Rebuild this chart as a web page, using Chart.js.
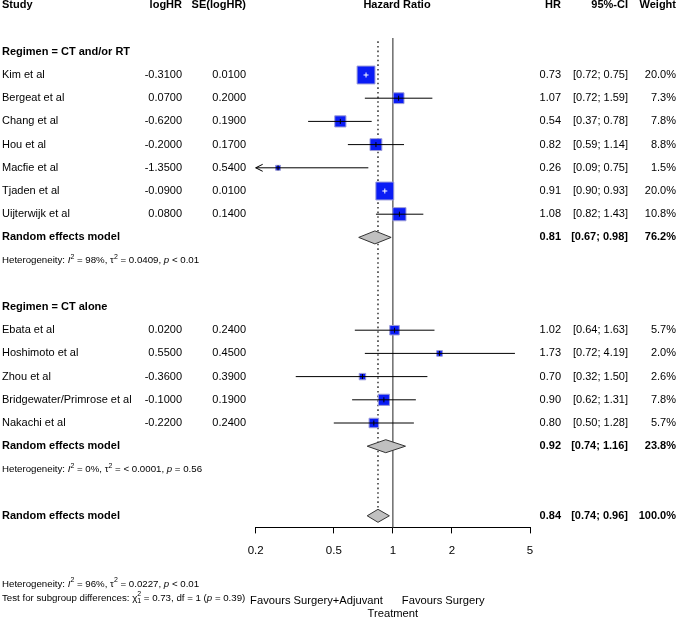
<!DOCTYPE html>
<html><head><meta charset="utf-8">
<script src="https://cdn.jsdelivr.net/npm/chart.js@4"></script>
<style>html,body{margin:0;padding:0;background:#fff}canvas{display:block}</style>
</head><body>
<canvas id="c" width="677" height="619"></canvas>
<script>
// ---- data ----
const studies1 = ['Kim et al','Bergeat et al','Chang et al','Hou et al','Macfie et al','Tjaden et al','Uijterwijk et al'];
const logHR1 = [-0.31, 0.07, -0.62, -0.20, -1.35, -0.09, 0.08];
const se1 = [0.01, 0.20, 0.19, 0.17, 0.54, 0.01, 0.14];
const hr1 = [0.73, 1.07, 0.54, 0.82, 0.26, 0.91, 1.08];
const lo1 = [0.72, 0.72, 0.37, 0.59, 0.09, 0.90, 0.82];
const hi1 = [0.75, 1.59, 0.78, 1.14, 0.75, 0.93, 1.43];
const w1 = [20.0, 7.3, 7.8, 8.8, 1.5, 20.0, 10.8];

const studies2 = ['Ebata et al','Hoshimoto et al','Zhou et al','Bridgewater/Primrose et al','Nakachi et al'];
const logHR2 = [0.02, 0.55, -0.36, -0.10, -0.22];
const se2 = [0.24, 0.45, 0.39, 0.19, 0.24];
const hr2 = [1.02, 1.73, 0.70, 0.90, 0.80];
const lo2 = [0.64, 0.72, 0.32, 0.62, 0.50];
const hi2 = [1.63, 4.19, 1.50, 1.31, 1.28];
const w2 = [5.7, 2.0, 2.6, 7.8, 5.7];

const groupLabels = ['Regimen = CT and/or RT', 'Regimen = CT alone'];
const reModel1 = {hr: 0.81, lo: 0.67, hi: 0.98, w: 76.2};
const reModel2 = {hr: 0.92, lo: 0.74, hi: 1.16, w: 23.8};
const reOverall = {hr: 0.84, lo: 0.74, hi: 0.96, w: 100.0};
const het1 = ['98%', '0.0409', '< 0.01'];
const het2 = ['0%', '< 0.0001', '= 0.56'];
const hetAll = ['96%', '0.0227', '< 0.01'];
const subgroupTest = ['0.73', '1', '0.39'];
const tickVals = [0.2, 0.5, 1, 2, 5];
const headers = ['Study', 'logHR', 'SE(logHR)', 'Hazard Ratio', 'HR', '95%-CI', 'Weight'];
const favours = ['Favours Surgery+Adjuvant', 'Favours Surgery', 'Treatment'];

// row indices
const rows1 = [0,1,2,3,4,5,6];
const rows2 = [11,12,13,14,15];
const ROW = {header:-3, g1:-1, re1:7, het1:8, g2:10, re2:16, het2:17, overall:19};

const FAM = '"Liberation Sans", Arial, Helvetica, sans-serif';
const allStudies = [];
studies1.forEach((s,i)=>allStudies.push({name:s, lhr:logHR1[i], se:se1[i], hr:hr1[i], lo:lo1[i], hi:hi1[i], w:w1[i], row:rows1[i]}));
studies2.forEach((s,i)=>allStudies.push({name:s, lhr:logHR2[i], se:se2[i], hr:hr2[i], lo:lo2[i], hi:hi2[i], w:w2[i], row:rows2[i]}));

const side = w => 4.0*Math.sqrt(w);

function rich(ctx, x, y, segs, size, align) {
  let total = 0;
  const meas = segs.map(s => {
    const sz = (s.sup||s.sub) ? size*0.72 : size;
    ctx.font = `${s.it?'italic ':''}${s.b?'bold ':''}${sz}px ${FAM}`;
    return ctx.measureText(s.t).width;
  });
  segs.forEach((s,i)=>{ if(!s.stack) total += meas[i]; });
  let cx = align==='right' ? x-total : align==='center' ? x-total/2 : x;
  ctx.textAlign = 'left';
  segs.forEach((s,i)=>{
    const sz = (s.sup||s.sub) ? size*0.72 : size;
    ctx.font = `${s.it?'italic ':''}${s.b?'bold ':''}${sz}px ${FAM}`;
    const dy = s.sup ? -size*0.38 : s.sub ? size*0.3 : 0;
    ctx.fillText(s.t, cx, y+dy);
    if(!s.stack) cx += meas[i];
  });
}
function hetSegs(h){
  return [{t:'Heterogeneity: '},{t:'I',it:true},{t:'2',sup:true},{t:' = '+h[0]+', '},{t:'\u03C4'},{t:'2',sup:true},{t:' = '+h[1]+', '},{t:'p',it:true},{t:' '+h[2]}];
}
const fmtCI = (lo,hi)=>'['+lo.toFixed(2)+'; '+hi.toFixed(2)+']';

const forestPlugin = {
  id:'forest',
  beforeDatasetsDraw(chart){
    const {ctx, scales:{x,y}, chartArea} = chart;
    ctx.save();
    // dotted line at overall estimate
    ctx.strokeStyle = '#000'; ctx.lineWidth = 1.2; ctx.setLineDash([1.6,3]);
    const xd = x.getPixelForValue(reOverall.hr);
    ctx.beginPath(); ctx.moveTo(xd, y.getPixelForValue(-1.45)); ctx.lineTo(xd, y.getPixelForValue(ROW.overall)-6); ctx.stroke();
    ctx.setLineDash([]);
    // solid line at 1
    ctx.strokeStyle = '#555'; ctx.lineWidth = 1.3;
    const x1 = x.getPixelForValue(1);
    ctx.beginPath(); ctx.moveTo(x1, y.getPixelForValue(-1.6)); ctx.lineTo(x1, chartArea.bottom); ctx.stroke();
    ctx.restore();
  },
  afterDatasetsDraw(chart){
    const {ctx, scales:{x,y}} = chart;
    ctx.save();
    allStudies.forEach(s=>{
      const py = y.getPixelForValue(s.row);
      const pc = x.getPixelForValue(s.hr);
      const xa = x.getPixelForValue(Math.max(s.lo, x.min));
      const xb = x.getPixelForValue(Math.min(s.hi, x.max));
      const half = side(s.w)/2;
      const inside = (pc-xa) <= half && (xb-pc) <= half;
      ctx.lineWidth = 1;
      ctx.strokeStyle = inside ? '#fff' : '#000';
      ctx.beginPath();
      if (inside) { ctx.moveTo(Math.min(xa,pc-2.5), py); ctx.lineTo(Math.max(xb,pc+2.5), py); }
      else { ctx.moveTo(xa, py); ctx.lineTo(xb, py); }
      ctx.moveTo(pc, py-2.5); ctx.lineTo(pc, py+2.5);
      ctx.stroke();
      if (s.lo < x.min) { // arrow
        ctx.strokeStyle = '#000';
        ctx.beginPath(); ctx.moveTo(xa+7, py-3.5); ctx.lineTo(xa, py); ctx.lineTo(xa+7, py+3.5); ctx.stroke();
      }
    });
    // diamonds
    [[reModel1,ROW.re1],[reModel2,ROW.re2],[reOverall,ROW.overall]].forEach(([m,r])=>{
      const py = y.getPixelForValue(r);
      ctx.beginPath();
      ctx.moveTo(x.getPixelForValue(m.lo), py);
      ctx.lineTo(x.getPixelForValue(m.hr), py-6.5);
      ctx.lineTo(x.getPixelForValue(m.hi), py);
      ctx.lineTo(x.getPixelForValue(m.hr), py+6.5);
      ctx.closePath();
      ctx.fillStyle = '#c0c0c0'; ctx.fill();
      ctx.strokeStyle = '#333'; ctx.lineWidth = 1; ctx.stroke();
    });
    ctx.restore();
  },
  afterDraw(chart){
    const {ctx, scales:{x,y}} = chart;
    ctx.save();
    ctx.fillStyle = '#000';
    ctx.textBaseline = 'middle';
    const py = r => y.getPixelForValue(r);
    const txtP = (t, px, pyy, align, bold, size) => {
      ctx.font = `${bold?'bold ':''}${size||11}px ${FAM}`;
      ctx.textAlign = align; ctx.fillText(t, px, pyy);
    };
    const txt = (t, px, r, align, bold, size) => txtP(t, px, py(r), align, bold, size);
    const COL = {study:2, lhr:182, se:246, hrc:397, hr:561, ci:628, w:676};
    // headers
    txt(headers[0], COL.study, ROW.header, 'left', true);
    txt(headers[1], COL.lhr, ROW.header, 'right', true);
    txt(headers[2], COL.se, ROW.header, 'right', true);
    txt(headers[3], COL.hrc, ROW.header, 'center', true);
    txt(headers[4], COL.hr, ROW.header, 'right', true);
    txt(headers[5], COL.ci, ROW.header, 'right', true);
    txt(headers[6], COL.w, ROW.header, 'right', true);
    // groups
    txt(groupLabels[0], COL.study, ROW.g1, 'left', true);
    txt(groupLabels[1], COL.study, ROW.g2, 'left', true);
    allStudies.forEach(s=>{
      txt(s.name, COL.study, s.row, 'left');
      txt(s.lhr.toFixed(4), COL.lhr, s.row, 'right');
      txt(s.se.toFixed(4), COL.se, s.row, 'right');
      txt(s.hr.toFixed(2), COL.hr, s.row, 'right');
      txt(fmtCI(s.lo,s.hi), COL.ci, s.row, 'right');
      txt(s.w.toFixed(1)+'%', COL.w, s.row, 'right');
    });
    [[reModel1,ROW.re1],[reModel2,ROW.re2],[reOverall,ROW.overall]].forEach(([m,r])=>{
      txt('Random effects model', COL.study, r, 'left', true);
      txt(m.hr.toFixed(2), COL.hr, r, 'right', true);
      txt(fmtCI(m.lo,m.hi), COL.ci, r, 'right', true);
      txt(m.w.toFixed(1)+'%', COL.w, r, 'right', true);
    });
    const HS = 9.7;
    rich(ctx, COL.study, py(ROW.het1), hetSegs(het1), HS);
    rich(ctx, COL.study, py(ROW.het2), hetSegs(het2), HS);
    rich(ctx, COL.study, 584, hetSegs(hetAll), HS);
    rich(ctx, COL.study, 598, [{t:'Test for subgroup differences: '},{t:'\u03C7'},{t:'2',sup:true,stack:true},{t:'1',sub:true},{t:' = '+subgroupTest[0]+', df = '+subgroupTest[1]+' ('},{t:'p',it:true},{t:' = '+subgroupTest[2]+')'}], HS);
    // favours
    const x1 = x.getPixelForValue(1);
    txtP(favours[0], x1-10, 601, 'right', false, 11.2);
    txtP(favours[1], x1+9, 601, 'left', false, 11.2);
    txtP(favours[2], x1, 614, 'center', false, 11.2);
    ctx.restore();
  }
};

new Chart(document.getElementById('c'), {
  type: 'scatter',
  data: {
    datasets: [{
      data: allStudies.map(s=>({x:s.hr, y:s.row})),
      pointStyle: 'rect',
      pointRadius: allStudies.map(s=>side(s.w)/Math.SQRT2),
      pointHoverRadius: allStudies.map(s=>side(s.w)/Math.SQRT2),
      backgroundColor: '#0a1cf5',
      borderColor: '#9c9cd8',
      borderWidth: 1
    }]
  },
  options: {
    responsive: false,
    animation: false,
    devicePixelRatio: 1,
    layout: {autoPadding: false, padding: {left: 255.7, right: 147, top: 5.4, bottom: 0}},
    plugins: {legend: {display:false}, tooltip: {enabled:false}},
    scales: {
      x: {
        type: 'logarithmic', min: 0.2, max: 5,
        afterBuildTicks: s => { s.ticks = tickVals.map(v=>({value:v})); },
        afterFit: s => { s.height = 619 - 527.4; },
        ticks: {callback: v => String(v), color:'#000', font:{size:11.5, family:FAM}, padding: 11, autoSkip:false, maxRotation:0},
        grid: {drawOnChartArea:false, drawTicks:true, tickLength:6, color:'#000', tickColor:'#000', tickWidth:1},
        border: {display:true, color:'#000', width:1}
      },
      y: {type:'linear', min:-3, max:19.5, reverse:true, display:false}
    }
  },
  plugins: [forestPlugin]
});
</script>
</body></html>
